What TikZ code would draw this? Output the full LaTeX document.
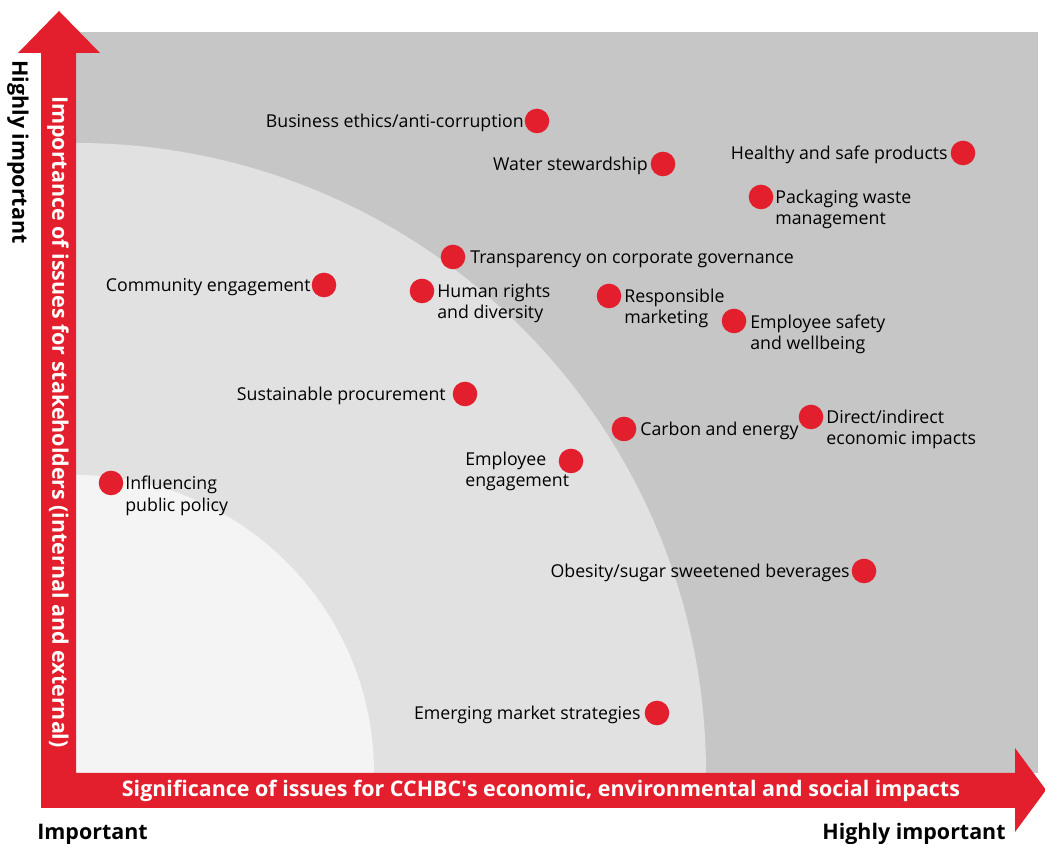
\documentclass[tikz,border=0pt]{standalone}
\usepackage{fontspec}
\setmainfont{Open Sans}
\definecolor{cred}{HTML}{E31F2D}
\definecolor{gdark}{HTML}{C6C6C6}
\definecolor{gmid}{HTML}{E1E1E1}
\definecolor{glight}{HTML}{F4F4F4}
\begin{document}
\begin{tikzpicture}[x=0.02cm, y=0.02cm,
  dot/.style={circle, fill=cred, inner sep=0pt, minimum size=14},
  lbl/.style={inner sep=0pt, font=\fontsize{10.1}{12}\selectfont, align=left},
  lblr/.style={lbl, anchor=north west},
  lbll/.style={lbl, anchor=north east, align=right},
  axis/.style={inner sep=0pt, font=\fontsize{12.2}{14}\selectfont\bfseries}]
\useasboundingbox (0,0) rectangle (1045,844);
% zones
\fill[gdark] (76,71) rectangle (1038,812);
\fill[gmid] (76,71) -- (706,71) arc[start angle=0, end angle=90, radius=630] -- cycle;
\fill[glight] (76,71) -- (374,71) arc[start angle=0, end angle=90, radius=298] -- cycle;
% axes
\fill[cred] (41,36) -- (1015,36) -- (1015,12) -- (1046,54) -- (1015,96) -- (1015,71)
  -- (76,71) -- (76,791) -- (100,791) -- (59,833) -- (18,791) -- (41,791) -- cycle;

\node[axis, text=white] (xlab) at (541,53) {Significance of issues for CCHBC\textquotesingle s economic, environmental and social impacts};
\node[axis, text=white, rotate=-90] (ylab) at (58,422) {Importance of issues for stakeholders (internal and external)};
\node[axis, rotate=-90] (yhigh) at (18,692) {Highly important};
\node[axis, anchor=west] (xlow) at (37,10) {Important};
\node[axis, anchor=east] (xhigh) at (1006,10) {Highly important};

% issues
\node[dot] (ethics) at (537,723) {};
\node[lbll] (ethicst) at (524,730) {Business ethics/anti-corruption};
\node[dot] (water) at (663,680) {};
\node[lbll] (watert) at (648,687) {Water stewardship};
\node[dot] (health) at (963,691) {};
\node[lbll] (healtht) at (948,698) {Healthy and safe products};
\node[dot] (pack) at (761,647) {};
\node[lblr] (packt) at (775,654) {Packaging waste\\management};
\node[dot] (transp) at (453,587) {};
\node[lblr] (transpt) at (470,594) {Transparency on corporate governance};
\node[dot] (comm) at (324,559) {};
\node[lbll] (commt) at (311,566) {Community engagement};
\node[dot] (human) at (422,553) {};
\node[lblr] (humant) at (437,560) {Human rights\\and diversity};
\node[dot] (resp) at (609,548) {};
\node[lblr] (respt) at (624,555) {Responsible\\marketing};
\node[dot] (safety) at (734,523) {};
\node[lblr] (safetyt) at (750,529) {Employee safety\\and wellbeing};
\node[dot] (procure) at (465,450) {};
\node[lbll] (procuret) at (446,457) {Sustainable procurement};
\node[dot] (carbon) at (624,415) {};
\node[lblr] (carbont) at (640,422) {Carbon and energy};
\node[dot] (econ) at (811,427) {};
\node[lblr] (econt) at (826,434) {Direct/indirect\\economic impacts};
\node[dot] (engage) at (571,383) {};
\node[lblr] (engaget) at (465,392) {Employee\\engagement};
\node[dot] (policy) at (111,361) {};
\node[lblr] (policyt) at (125,368) {Influencing\\public policy};
\node[dot] (obesity) at (864,273) {};
\node[lbll] (obesityt) at (850,280) {Obesity/sugar sweetened beverages};
\node[dot] (emerg) at (657,131) {};
\node[lbll] (emergt) at (641,138) {Emerging market strategies};
\end{tikzpicture}
\end{document}
